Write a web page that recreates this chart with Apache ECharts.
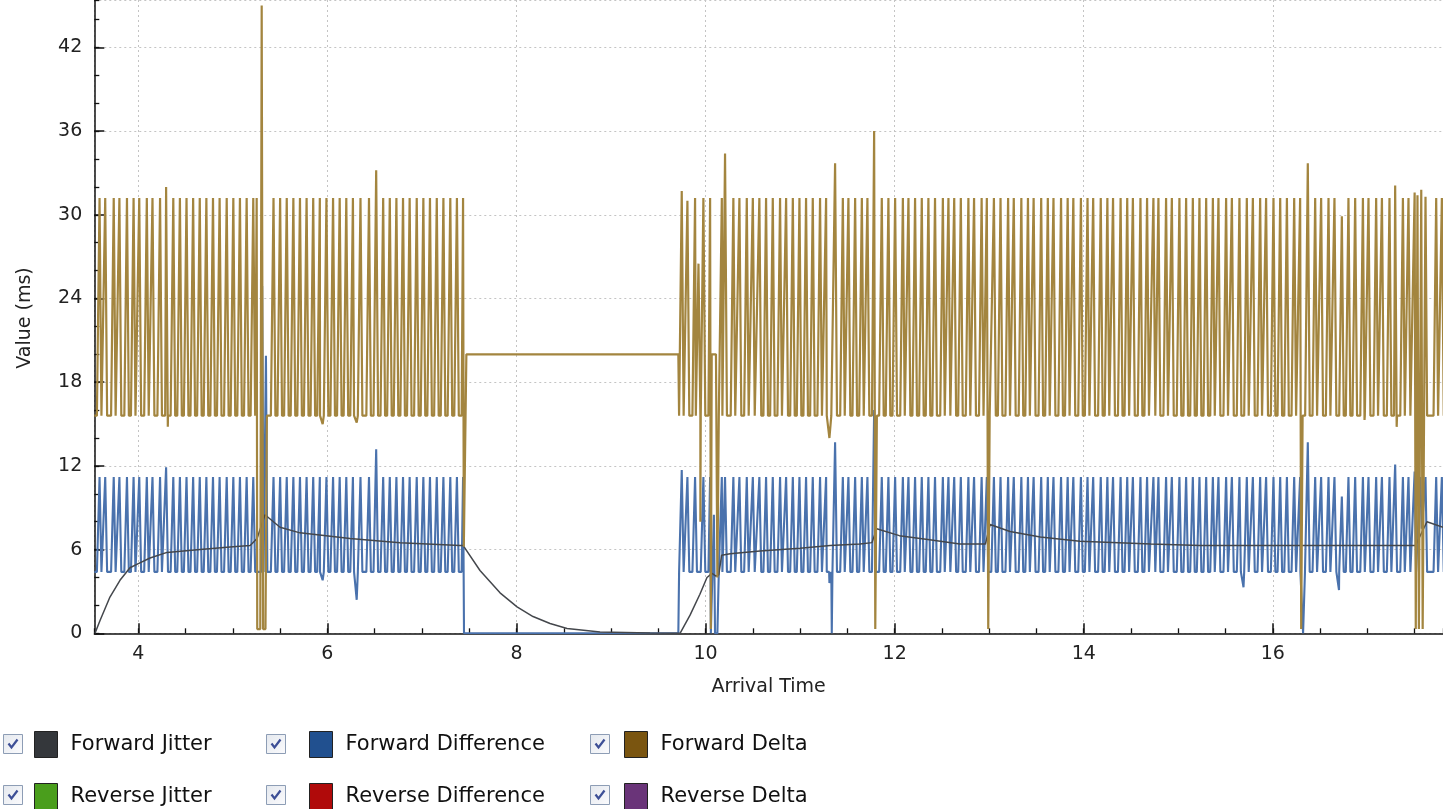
<!DOCTYPE html>
<html><head><meta charset="utf-8">
<script src="https://cdn.jsdelivr.net/npm/echarts@6/dist/echarts.min.js"></script>
<style>html,body{margin:0;padding:0;background:#fff;overflow:hidden}#c{width:1443px;height:809px}</style>
</head><body><div id="c"></div>
<script>
// ---------------- data (seconds / ms) ----------------
const legendNames = ['Forward Jitter','Reverse Jitter','Forward Difference','Reverse Difference','Forward Delta','Reverse Delta'];
const xTickLabels = [4, 6, 8, 10, 12, 14, 16];
const yTickLabels = [0, 6, 12, 18, 24, 30, 36, 42];

const deltaLow = 15.6, deltaHigh = 31.2;   // forward delta levels
const diffLow = 4.4, diffHigh = 11.2;      // forward difference levels

// arrival times of regular 31.2 ms packets, first talk spurt
const spikeTimesA = [3.59,3.65,3.74,3.80,3.88,3.95,4.01,4.09,4.15,4.23,4.37,4.44,4.51,4.58,4.65,4.72,4.79,4.86,4.935,5.005,5.075,5.146,5.216,
 5.43,5.50,5.57,5.64,5.71,5.78,5.85,5.92,5.99,6.06,6.13,6.20,6.27,6.35,6.44,6.59,6.66,6.73,6.80,6.87,6.945,7.015,7.085,7.157,7.227,7.30,7.37];
// second talk spurt
const spikeTimesB = [9.889,9.977,10.294,10.358,10.436,10.50,10.569,10.640,10.711,10.788,10.852,10.923,10.993,11.063,11.134,11.211,11.275,
 11.452,11.511,11.582,11.653,11.712,11.864,11.934,12.005,12.087,12.146,12.216,12.287,12.357,12.427,12.51,12.569,12.63,12.70,12.78,12.84,12.92,
 13.05,13.12,13.20,13.26,13.34,13.41,13.47,13.55,13.62,13.68,13.76,13.83,13.89,13.97,14.04,14.10,14.18,14.25,14.31,14.39,14.46,14.52,14.60,14.67,
 14.737,14.79,14.871,14.932,15.012,15.083,15.154,15.224,15.295,15.366,15.425,15.506,15.567,15.647,15.725,15.789,15.866,15.929,16.007,16.078,
 16.149,16.226,16.448,16.511,16.589,16.652,16.80,16.871,16.953,17.012,17.093,17.154,17.234,17.376,17.435,17.728,17.788];

// single packets with unusual values [time, value]
const fwdDeltaBlips = [[4.294,32.0],[4.312,14.8],[5.95,15.0],[6.31,15.1],[6.516,33.2],[9.748,31.7],[9.808,31.0],[9.925,26.5],[9.945,8.0],
 [10.206,34.4],[11.31,14.0],[11.37,33.7],[16.37,33.7],[16.73,29.9],[16.97,15.3],[17.294,32.1],[17.31,14.8]];
const fwdDiffBlips = [[4.294,11.9],[5.95,3.8],[6.31,2.4],[6.516,13.2],[9.748,11.7],[9.808,11.2],[10.206,11.2],[11.31,3.6],[11.335,0],
 [11.37,13.7],[15.69,3.3],[16.32,0],[16.37,13.7],[16.70,3.1],[16.73,9.8],[17.294,12.1]];

// irregular stretches, point by point [time, value]
const fwdDeltaRaw = [[3.535,15.6],
 [5.24,15.6],[5.252,31.2],[5.258,0.3],[5.29,0.3],[5.305,45.0],[5.32,0.3],[5.345,0.3],[5.36,15.6],
 [7.42,15.6],[7.435,31.2],[7.443,6.2],[7.47,20.0],[9.712,20.0],
 [10.03,15.6],[10.048,31.2],[10.056,0.3],[10.065,20.0],[10.11,20.0],[10.125,4.0],[10.14,15.6],[10.172,31.2],[10.185,15.6],
 [11.76,15.6],[11.783,36.0],[11.795,0.3],[11.812,15.6],
 [12.95,15.6],[12.975,31.2],[12.99,0.3],[13.005,15.6],
 [16.265,15.6],[16.289,31.2],[16.30,0.3],[16.315,15.6],
 [17.475,15.6],[17.50,31.6],[17.512,0.3],[17.53,31.4],[17.545,0.3],[17.57,31.8],[17.585,0.3],[17.615,31.3],[17.632,15.6]];
const fwdDiffRaw = [[3.535,4.4],
 [5.245,4.4],[5.30,4.4],[5.31,24.9],[5.325,4.4],[5.34,4.4],[5.35,19.9],[5.365,4.4],
 [7.42,4.4],[7.435,11.2],[7.445,0],[9.712,0],
 [10.03,4.4],[10.048,11.2],[10.056,0],[10.075,0],[10.088,8.5],[10.10,0],[10.125,0],[10.14,4.4],[10.172,11.2],[10.185,4.4],
 [11.76,4.4],[11.783,16.0],[11.80,4.4],
 [12.95,4.4],[12.975,11.2],[12.99,4.4],
 [16.265,4.4],[16.289,11.2],[16.30,4.4],
 [17.475,4.4],[17.50,11.6],[17.515,4.4],[17.56,11.2],[17.575,7.5],[17.615,11.2],[17.632,4.4]];

const fwdJitter = [[3.542,0],[3.594,0.9],[3.70,2.6],[3.806,3.8],[3.912,4.7],[4.0,5.0],[4.124,5.4],[4.304,5.8],[4.653,6.0],[5.003,6.2],
 [5.183,6.3],[5.256,6.8],[5.34,8.5],[5.499,7.6],[5.71,7.2],[6.239,6.8],[6.768,6.5],[7.403,6.3],[7.435,6.3],[7.614,4.5],[7.826,2.9],
 [8.006,1.9],[8.175,1.2],[8.355,0.7],[8.535,0.35],[8.884,0.1],[9.413,0.02],[9.73,0],[9.836,1.3],[9.94,2.8],[10.015,4.0],[10.068,4.3],
 [10.11,4.1],[10.14,4.2],[10.17,5.6],[10.26,5.7],[10.576,5.9],[10.999,6.1],[11.317,6.3],[11.634,6.4],[11.76,6.5],[11.81,7.5],[12.05,7.0],
 [12.37,6.7],[12.69,6.4],[12.96,6.4],[13.01,7.8],[13.22,7.3],[13.54,6.9],[13.96,6.6],[14.71,6.4],[15.23,6.3],[16.29,6.3],[17.51,6.3],
 [17.63,8.0],[17.8,7.6]];

// ---------------- build point lists ----------------
function build(times, high, low, blips, raw) {
  const pts = [];
  const blip = (t, v) => { pts.push([t - 0.028, low], [t, v], [t + 0.02, low]); };
  times.forEach(t => blip(t, high));
  blips.forEach(b => blip(b[0], b[1]));
  raw.forEach(p => pts.push(p));
  pts.sort((a, b) => a[0] - b[0]);
  return pts;
}
const deltaData = build(spikeTimesA.concat(spikeTimesB), deltaHigh, deltaLow, fwdDeltaBlips, fwdDeltaRaw);
const diffData = build(spikeTimesA.concat(spikeTimesB), diffHigh, diffLow, fwdDiffBlips, fwdDiffRaw);

const FONT = 'DejaVu Sans';
const legendColors = {'Forward Jitter':'#34373b','Reverse Jitter':'#4a9e1c','Forward Difference':'#21508f','Reverse Difference':'#b00a0a','Forward Delta':'#7a5510','Reverse Delta':'#6a3479'};

function legendItems(names){ return names.map(n => ({name:n, itemStyle:{color:legendColors[n], borderColor:'#222', borderWidth:1}})); }
const legendBase = {orient:'vertical', icon:'rect', itemWidth:23, itemHeight:26, itemGap:25, selectedMode:false, padding:0,
  textStyle:{fontFamily:FONT, fontSize:21, color:'#111', padding:[0,0,0,8]}, top:731, height:80};

// checkbox graphics
const boxCols = [3, 266, 590], boxRows = [734, 785];
const graphics = [];
boxCols.forEach(x => boxRows.forEach(y => {
  graphics.push({type:'group', left:x, top:y, children:[
    {type:'rect', shape:{x:0,y:0,width:19,height:19}, style:{fill:new echarts.graphic.LinearGradient(0,0,1,1,[{offset:0,color:'#e4e8ee'},{offset:1,color:'#fbfbfd'}]), stroke:'#8d9db5', lineWidth:1}},
    {type:'polyline', shape:{points:[[5,9],[8,13],[14,5]]}, style:{stroke:'#3d4f96', lineWidth:2.2, fill:null}}
  ]});
}));
graphics.push({type:'text', rotation:Math.PI/2, x:25, y:318, style:{text:'Value (ms)', font:'19px "DejaVu Sans"', fill:'#222', textAlign:'center', textVerticalAlign:'middle'}});

const chart = echarts.init(document.getElementById('c'), null, {renderer:'canvas'});
chart.setOption({
  animation:false,
  backgroundColor:'#fff',
  grid:{left:94.3, right:0, top:0, bottom:175.7, containLabel:false},
  xAxis:[{
    type:'value', min:3.5345, max:17.8, minInterval:2, maxInterval:2, splitNumber:7,
    name:'Arrival Time', nameLocation:'middle', nameGap:44,
    nameTextStyle:{fontFamily:FONT, fontSize:19, color:'#222'},
    axisLine:{show:true, lineStyle:{color:'#111', width:1.5}},
    axisTick:{show:true, inside:true, length:10, lineStyle:{color:'#111', width:1.5}},
    minorTick:{show:false},
    axisLabel:{fontFamily:FONT, fontSize:19, color:'#222', margin:11, showMinLabel:false, showMaxLabel:false,
      formatter: v => xTickLabels.indexOf(Math.round(v*1000)/1000) >= 0 ? String(v) : ''},
    splitLine:{show:true, lineStyle:{color:'#c4c4c4', type:[2,3], width:1}}
  },{
    type:'value', min:3.5345, max:17.8, minInterval:0.5, maxInterval:0.5, splitNumber:28, position:'bottom',
    axisLine:{show:false}, axisLabel:{show:false}, splitLine:{show:false},
    axisTick:{show:true, inside:true, length:5, lineStyle:{color:'#111', width:1.3}}
  }],
  yAxis:[{
    type:'value', min:0, max:45.4, interval:6,
    axisLine:{show:true, lineStyle:{color:'#111', width:1.5}},
    axisTick:{show:true, inside:true, length:10, lineStyle:{color:'#111', width:1.5}},
    minorTick:{show:false},
    axisLabel:{fontFamily:FONT, fontSize:19, color:'#222', margin:12, showMaxLabel:false,
      formatter: v => yTickLabels.indexOf(v) >= 0 ? String(v) : ''},
    splitLine:{show:true, lineStyle:{color:'#c4c4c4', type:[2,3], width:1}}
  },{
    type:'value', min:0, max:45.4, interval:2, position:'left',
    axisLine:{show:false}, axisLabel:{show:false}, splitLine:{show:false},
    axisTick:{show:true, inside:true, length:5, lineStyle:{color:'#111', width:1.3}}
  }],
  legend:[
    Object.assign({}, legendBase, {left:34, data:legendItems(['Forward Jitter','Reverse Jitter'])}),
    Object.assign({}, legendBase, {left:309, data:legendItems(['Forward Difference','Reverse Difference'])}),
    Object.assign({}, legendBase, {left:624, data:legendItems(['Forward Delta','Reverse Delta'])})
  ],
  graphic:{elements:graphics},
  series:[
    {name:'Forward Difference', type:'line', data:diffData, symbol:'none', silent:true, z:2,
      lineStyle:{color:'#4a72ad', width:2.1}, itemStyle:{color:legendColors['Forward Difference']}},
    {name:'Forward Jitter', type:'line', data:fwdJitter, symbol:'none', silent:true, z:3,
      lineStyle:{color:'#44474c', width:1.5}, itemStyle:{color:legendColors['Forward Jitter']}},
    {name:'Forward Delta', type:'line', data:deltaData, symbol:'none', silent:true, z:4,
      lineStyle:{color:'#a3853f', width:2.2}, itemStyle:{color:legendColors['Forward Delta']}},
    {name:'Reverse Jitter', type:'line', data:[], symbol:'none', itemStyle:{color:legendColors['Reverse Jitter']}},
    {name:'Reverse Difference', type:'line', data:[], symbol:'none', itemStyle:{color:legendColors['Reverse Difference']}},
    {name:'Reverse Delta', type:'line', data:[], symbol:'none', itemStyle:{color:legendColors['Reverse Delta']}}
  ]
});
</script></body></html>
